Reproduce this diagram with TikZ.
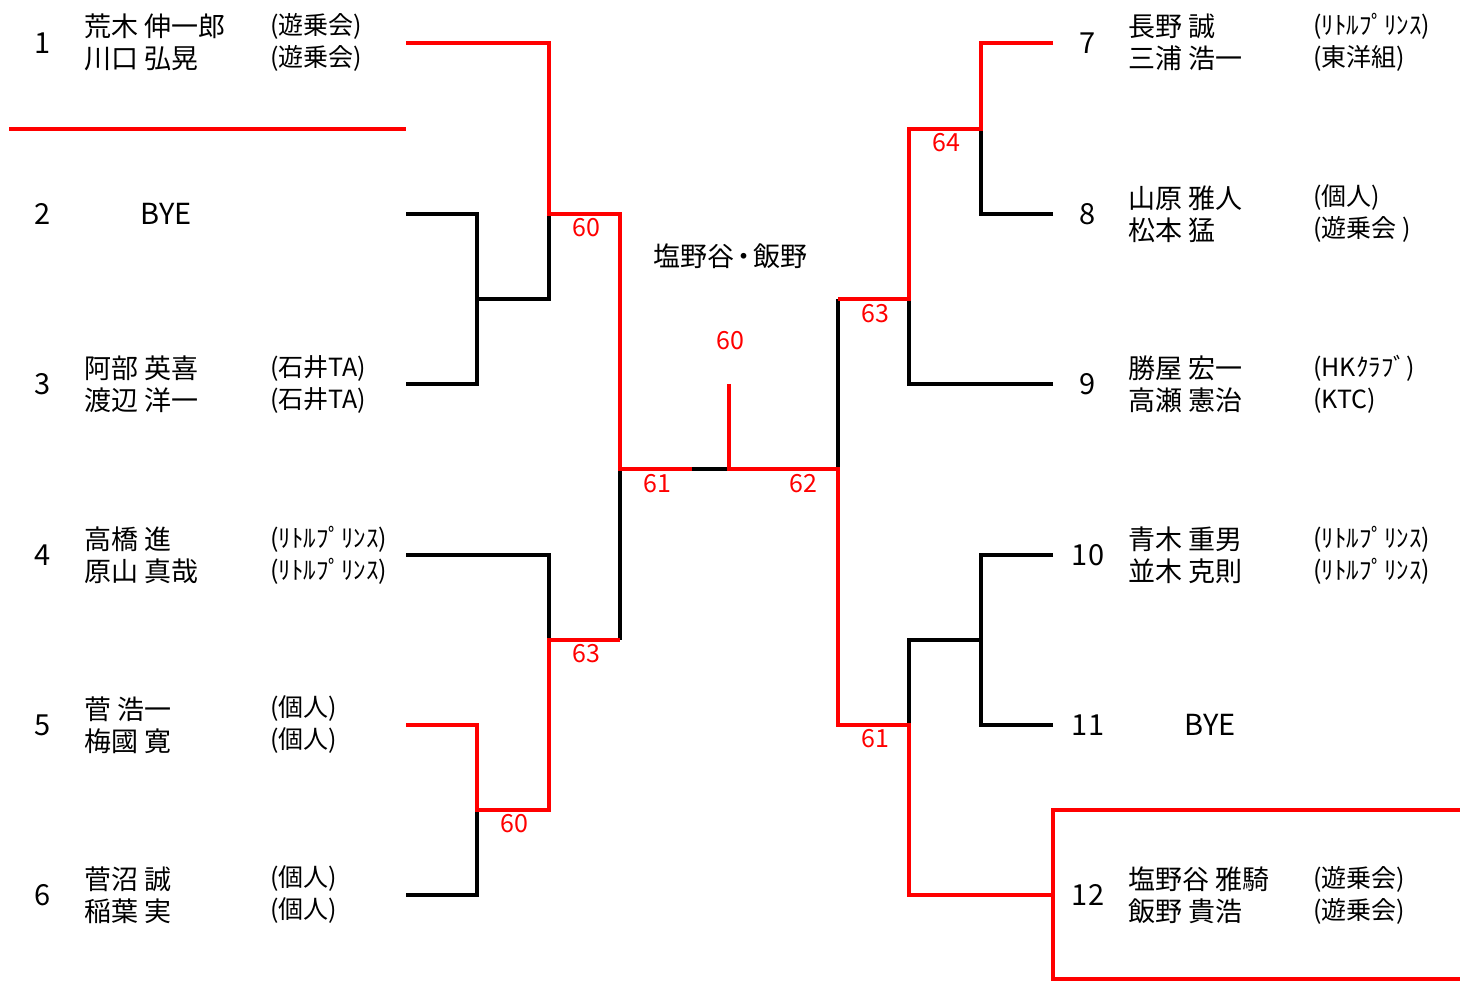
\documentclass[tikz,border=0pt]{standalone}
\usepackage{fontspec}
\setmainfont{Noto Sans CJK JP}
\begin{document}
\begin{tikzpicture}[x=1pt,y=-1pt,
  bk/.style={line width=3.2pt, black, line join=miter},
  rd/.style={line width=4.8pt, red, line join=miter},
  num/.style={font=\fontsize{29}{29}\selectfont, anchor=center, inner sep=0pt},
  nm/.style={font=\fontsize{27}{32}\selectfont, align=left, anchor=west, inner sep=0pt},
  cl/.style={font=\fontsize{25}{32}\selectfont, align=left, anchor=west, inner sep=0pt},
  sc/.style={font=\fontsize{25}{25}\selectfont, text=red, anchor=center, inner sep=0pt},
  bye/.style={font=\fontsize{29}{29}\selectfont, anchor=center, inner sep=0pt}]
\useasboundingbox (0,0) rectangle (1460,981);

% ---------- left entries ----------
\node[num] (k1) at (43,43) {1};
\node[nm] (n1) at (84,42) {荒木 伸一郎\\川口 弘晃};
\node[cl] (c1) at (270,42) {(遊乗会)\\(遊乗会)};
\node[num] (k2) at (43,214) {2};
\node[bye] (n2) at (166,214) {BYE};
\node[num] (k3) at (43,384) {3};
\node[nm] (n3) at (84,384) {阿部 英喜\\渡辺 洋一};
\node[cl] (c3) at (270,384) {(石井TA)\\(石井TA)};
\node[num] (k4) at (43,555) {4};
\node[nm] (n4) at (84,555) {高橋 進\\原山 真哉};
\node[cl] (c4) at (270,555) {(ﾘﾄﾙﾌﾟﾘﾝｽ)\\(ﾘﾄﾙﾌﾟﾘﾝｽ)};
\node[num] (k5) at (43,725) {5};
\node[nm] (n5) at (84,725) {菅 浩一\\梅國 寛};
\node[cl] (c5) at (270,725) {(個人)\\(個人)};
\node[num] (k6) at (43,895) {6};
\node[nm] (n6) at (84,895) {菅沼 誠\\稲葉 実};
\node[cl] (c6) at (270,895) {(個人)\\(個人)};

% ---------- right entries ----------
\node[num] (k7) at (1088,43) {7};
\node[nm] (n7) at (1128,42) {長野 誠\\三浦 浩一};
\node[cl] (c7) at (1313,42) {(ﾘﾄﾙﾌﾟﾘﾝｽ)\\(東洋組)};
\node[num] (k8) at (1088,214) {8};
\node[nm] (n8) at (1128,214) {山原 雅人\\松本 猛};
\node[cl] (c8) at (1313,214) {(個人)\\(遊乗会 )};
\node[num] (k9) at (1088,384) {9};
\node[nm] (n9) at (1128,384) {勝屋 宏一\\高瀬 憲治};
\node[cl] (c9) at (1313,384) {(HKｸﾗﾌﾞ)\\(KTC)};
\node[num] (k10) at (1088,555) {10};
\node[nm] (n10) at (1128,555) {青木 重男\\並木 克則};
\node[cl] (c10) at (1313,555) {(ﾘﾄﾙﾌﾟﾘﾝｽ)\\(ﾘﾄﾙﾌﾟﾘﾝｽ)};
\node[num] (k11) at (1088,725) {11};
\node[bye] (n11) at (1210,725) {BYE};
\node[num] (k12) at (1088,895) {12};
\node[nm] (n12) at (1128,895) {塩野谷 雅騎\\飯野 貴浩};
\node[cl] (c12) at (1313,895) {(遊乗会)\\(遊乗会)};

% ---------- centre ----------
\node[font=\fontsize{27}{27}\selectfont, inner sep=0pt] (win) at (730,256) {塩野谷\hspace{-4pt}・\hspace{-4pt}飯野};

% ---------- coordinates ----------
\coordinate (L1) at (406,43);  \coordinate (L2) at (406,214);
\coordinate (L3) at (406,384); \coordinate (L4) at (406,555);
\coordinate (L5) at (406,725); \coordinate (L6) at (406,895);
\coordinate (R7) at (1053,43);  \coordinate (R8) at (1053,214);
\coordinate (R9) at (1053,384); \coordinate (R10) at (1053,555);
\coordinate (R11) at (1053,725); \coordinate (R12) at (1053,895);
\coordinate (b23) at (477,299);
\coordinate (q123) at (549,214);
\coordinate (b56) at (477,810);
\coordinate (q456) at (549,640);
\coordinate (c456) at (620,640);
\coordinate (s1) at (620,469);
\coordinate (s1r) at (692,469);
\coordinate (f) at (729,469);
\coordinate (ftop) at (729,384);
\coordinate (s2) at (838,469);
\coordinate (b78) at (981,129);
\coordinate (q789) at (909,299);
\coordinate (c789) at (838,299);
\coordinate (b1011) at (981,640);
\coordinate (q1012) at (909,725);
\coordinate (sepL) at (9,129);
\coordinate (sepR) at (406,129);
\coordinate (boxTL) at (1053,810);
\coordinate (boxTR) at (1462,810);
\coordinate (boxBL) at (1053,979);
\coordinate (boxBR) at (1462,979);

% ---------- black lines ----------
\draw[bk] (L2) -| (b23);
\draw[bk] (L3) -| (b23);
\draw[bk] (b23) -| (q123);
\draw[bk] (L4) -| (q456);
\draw[bk] (L6) -| (b56);
\draw[bk] (c456) -- (s1);
\draw[bk] (s1r) -- (f);
\draw[bk] (c789) -- (s2);
\draw[bk] (R8) -| (b78);
\draw[bk] (R9) -| (q789);
\draw[bk] (R10) -| (b1011);
\draw[bk] (R11) -| (b1011);
\draw[bk] (b1011) -| (q1012);

% ---------- red lines ----------
\draw[rd] (sepL) -- (sepR);
\draw[rd] (L1) -| (q123) -| (s1) -- (s1r);
\draw[rd] (L5) -| (b56) -| (q456) -- (c456);
\draw[rd] (ftop) -- (f) -- (s2) |- (q1012) |- (R12);
\draw[rd] (R7) -| (b78) -| (q789) -- (c789);
\draw[rd] (boxTR) -- (boxTL) -- (boxBL) -- (boxBR);

% ---------- scores ----------
\node[sc] (m1) at (586,228) {60};
\node[sc] (m2) at (514,824) {60};
\node[sc] (m3) at (586,654) {63};
\node[sc] (m4) at (657,484) {61};
\node[sc] (m5) at (730,341) {60};
\node[sc] (m6) at (803,484) {62};
\node[sc] (m7) at (946,143) {64};
\node[sc] (m8) at (875,314) {63};
\node[sc] (m9) at (875,739) {61};
\end{tikzpicture}
\end{document}
